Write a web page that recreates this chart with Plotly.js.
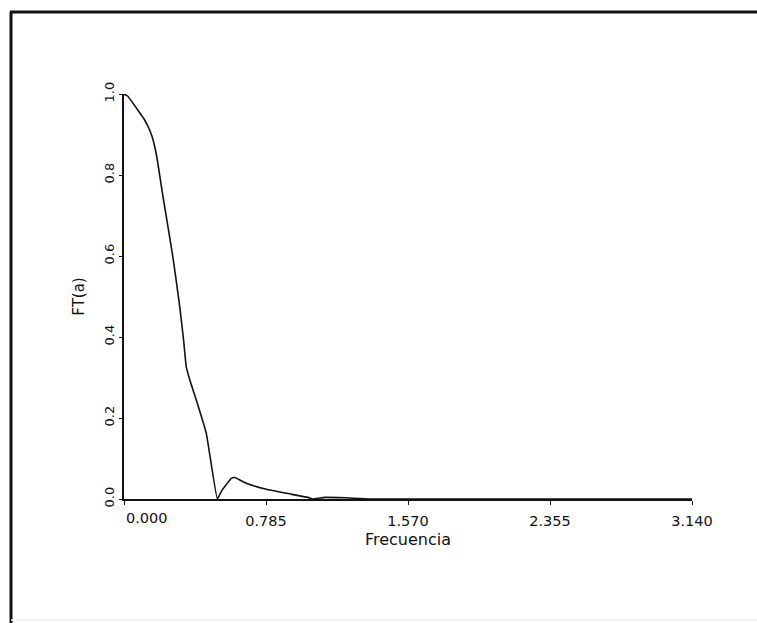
<!DOCTYPE html>
<html>
<head>
<meta charset="utf-8">
<script src="https://cdn.plot.ly/plotly-3.0.1.min.js"></script>
<style>html,body{margin:0;padding:0;background:#fff;}#chart{width:757px;height:623px;}</style>
</head>
<body>
<div id="chart"></div>
<script>
// Frequency (x) and FT(a) (y)
const freq = [0, 0.020, 0.050, 0.080, 0.110, 0.135, 0.155, 0.172, 0.186, 0.198, 0.215, 0.235, 0.253, 0.270, 0.290, 0.310, 0.330, 0.344, 0.370, 0.400, 0.455, 0.516, 0.540, 0.556, 0.593, 0.612, 0.676, 0.787, 0.898, 1.017, 1.043, 1.110, 1.220, 1.360, 2.000, 3.140];
const ft   = [1.000, 0.995, 0.977, 0.958, 0.939, 0.918, 0.895, 0.866, 0.832, 0.797, 0.748, 0.694, 0.645, 0.598, 0.535, 0.468, 0.390, 0.327, 0.285, 0.244, 0.162, 0.000, 0.020, 0.030, 0.051, 0.053, 0.039, 0.024, 0.014, 0.004, 0.000, 0.004, 0.003, 0.000, 0.000, 0.000];

const xTickVals = [0, 0.785, 1.570, 2.355, 3.140];
const xTickText = ["", "0.785", "1.570", "2.355", "3.140"];
const firstXTick = "0.000";
const yTickVals = [0, 0.2, 0.4, 0.6, 0.8, 1.0];
const yTickText = ["0.0", "0.2", "0.4", "0.6", "0.8", "1.0"];

const FONT = "DejaVu Sans, Liberation Sans, sans-serif";

const trace = {
  x: freq, y: ft, type: "scatter", mode: "lines",
  line: {color: "#111", width: 1.6, shape: "spline", smoothing: 0.3},
  hoverinfo: "skip"
};

// plot area in px: l=124, r=692, t=94, b=499
const L = 124, R = 692, T = 94, B = 499;
const px2x = p => (p - L) / (R - L);
const px2y = p => (B - p) / (B - T);

const layout = {
  width: 757, height: 623,
  margin: {l: L, r: 757 - R, t: T, b: 623 - B, pad: 0},
  paper_bgcolor: "#fff", plot_bgcolor: "#fff",
  showlegend: false,
  font: {family: FONT, color: "#111", size: 13},
  xaxis: {
    range: [0, 3.14], showline: true, linecolor: "#111", linewidth: 1.6,
    showgrid: false, zeroline: false, ticks: "outside", ticklen: 4, tickwidth: 1, tickcolor: "#111",
    tickmode: "array", tickvals: xTickVals, ticktext: xTickText,
    tickfont: {size: 14.5}, ticklabelstandoff: 4, automargin: false,
    title: {text: "Frecuencia", font: {size: 16}, standoff: 6}
  },
  yaxis: {
    range: [0, 1.0], showline: true, linecolor: "#111", linewidth: 1.6,
    showgrid: false, zeroline: false, ticks: "outside", ticklen: 3, tickwidth: 1, tickcolor: "#111",
    tickmode: "array", tickvals: yTickVals, ticktext: yTickText, tickangle: -90,
    tickfont: {size: 13}, ticklabelstandoff: 0, automargin: false,
    title: {text: "FT(a)", font: {size: 15}, standoff: 14}
  },
  annotations: [{
    text: firstXTick, xref: "x", yref: "paper", x: 0, y: 0,
    xanchor: "left", yanchor: "top", yshift: -9, showarrow: false,
    font: {family: FONT, size: 14.5, color: "#111"}
  }],
  shapes: [
    {type: "line", xref: "paper", yref: "paper", x0: px2x(11), x1: px2x(11), y0: px2y(12), y1: px2y(623), line: {color: "#111", width: 3}},
    {type: "line", xref: "paper", yref: "paper", x0: px2x(10), x1: px2x(757), y0: px2y(12), y1: px2y(12), line: {color: "#111", width: 3}},
    {type: "line", xref: "paper", yref: "paper", x0: px2x(11), x1: px2x(757), y0: px2y(620), y1: px2y(620), line: {color: "#f0f0f0", width: 1.5}}
  ]
};

Plotly.newPlot("chart", [trace], layout, {staticPlot: true, displayModeBar: false});
</script>
</body>
</html>
